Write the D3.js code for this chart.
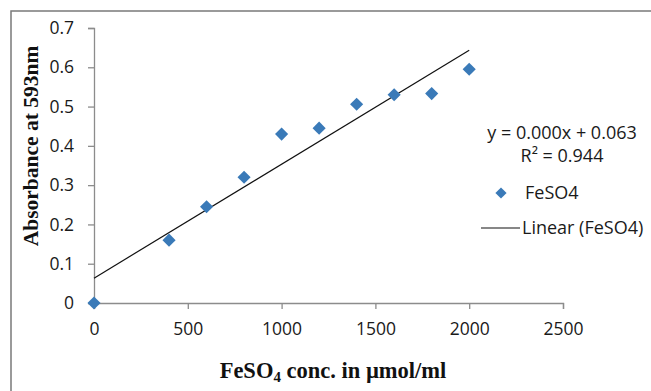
<!DOCTYPE html>
<html>
<head>
<meta charset="utf-8">
<script src="https://cdn.jsdelivr.net/npm/d3@7"></script>
<style>
  html, body { margin: 0; padding: 0; background: #fff; }
  svg { display: block; }
</style>
</head>
<body>
<div id="chart"></div>
<script>
// data
const concentrations = [0, 400, 600, 800, 1000, 1200, 1400, 1600, 1800, 2000];
const absorbance = [0, 0.16, 0.245, 0.32, 0.43, 0.445, 0.506, 0.53, 0.533, 0.595];
const xTicks = [0, 500, 1000, 1500, 2000, 2500];
const yTicks = [0, 0.1, 0.2, 0.3, 0.4, 0.5, 0.6, 0.7];
const seriesName = "FeSO4";
const trendLabel = "Linear (FeSO4)";
const equationText = "y = 0.000x + 0.063";
const r2Value = "0.944";

const width = 651, height = 391;
const tickFont = "'Open Sans', sans-serif";
const titleFont = "'Liberation Serif', 'Times New Roman', serif";
const markerColor = "#3a7ab8";
const axisColor = "#8c8c8c";
const textSize = "17.5px";

const svg = d3.select("#chart").append("svg")
  .attr("width", width)
  .attr("height", height);

// outer frame (runs past the right/bottom edge like the picture)
svg.append("rect")
  .attr("x", 11).attr("y", 11)
  .attr("width", 700).attr("height", 700)
  .attr("fill", "none")
  .attr("stroke", "#7a7a7a")
  .attr("stroke-width", 1.5);

const x = d3.scaleLinear().domain([0, 2500]).range([94, 563]);
const y = d3.scaleLinear().domain([0, 0.7]).range([303, 28]);

// y axis
const yAxis = svg.append("g")
  .attr("transform", `translate(${x(0)},0)`)
  .call(d3.axisLeft(y).tickValues(yTicks).tickSize(6).tickPadding(14)
    .tickFormat(d => d === 0 ? "0" : d3.format(".1f")(d)));

// x axis
const xAxis = svg.append("g")
  .attr("transform", `translate(0,${y(0)})`)
  .call(d3.axisBottom(x).tickValues(xTicks).tickSize(6).tickPadding(14)
    .tickFormat(d3.format("d")));

[yAxis, xAxis].forEach(g => {
  g.select(".domain").attr("stroke", axisColor).attr("stroke-width", 1.3);
  g.selectAll(".tick line").attr("stroke", axisColor).attr("stroke-width", 1.3);
  g.selectAll(".tick text")
    .attr("fill", "#1a1a1a")
    .style("font-family", tickFont)
    .style("font-size", textSize);
});

// trendline from least squares on the data
const n = concentrations.length;
const mx = d3.mean(concentrations), my = d3.mean(absorbance);
let sxy = 0, sxx = 0;
for (let i = 0; i < n; i++) {
  sxy += (concentrations[i] - mx) * (absorbance[i] - my);
  sxx += (concentrations[i] - mx) ** 2;
}
const slope = sxy / sxx;
const intercept = my - slope * mx;
const xMin = d3.min(concentrations), xMax = d3.max(concentrations);

svg.append("line")
  .attr("x1", x(xMin)).attr("y1", y(intercept + slope * xMin))
  .attr("x2", x(xMax)).attr("y2", y(intercept + slope * xMax))
  .attr("stroke", "#111")
  .attr("stroke-width", 1.2);

// markers
const diamond = d3.symbol().type(d3.symbolDiamond2).size(110);
svg.append("g")
  .selectAll("path")
  .data(concentrations.map((c, i) => ({ c, a: absorbance[i] })))
  .enter()
  .append("path")
  .attr("d", diamond)
  .attr("transform", d => `translate(${x(d.c)},${y(d.a)})`)
  .attr("fill", markerColor);

// equation + R²
const eq = svg.append("g")
  .style("font-family", tickFont)
  .style("font-size", "18px")
  .attr("fill", "#1a1a1a")
  .attr("text-anchor", "middle");
eq.append("text").attr("x", 562).attr("y", 139).text(equationText);
eq.append("text").attr("x", 562).attr("y", 162).text(`R² = ${r2Value}`);

// legend
const legend = svg.append("g")
  .style("font-family", tickFont)
  .style("font-size", "18px")
  .attr("fill", "#1a1a1a");
legend.append("path")
  .attr("d", d3.symbol().type(d3.symbolDiamond2).size(80))
  .attr("transform", "translate(501,193)")
  .attr("fill", markerColor);
legend.append("text").attr("x", 525).attr("y", 199).text(seriesName);
legend.append("line")
  .attr("x1", 481).attr("x2", 520).attr("y1", 228).attr("y2", 228)
  .attr("stroke", "#111").attr("stroke-width", 1.2);
legend.append("text").attr("x", 522).attr("y", 234).text(trendLabel);

// axis titles
const xTitle = svg.append("text")
  .attr("x", 333).attr("y", 378)
  .attr("text-anchor", "middle")
  .style("font-family", titleFont)
  .style("font-weight", "bold")
  .style("font-size", "22.5px")
  .attr("fill", "#111");
xTitle.append("tspan").text("FeSO");
xTitle.append("tspan").attr("dy", 4).style("font-size", "15px").text("4");
xTitle.append("tspan").attr("dy", -4).text(" conc. in µmol/ml");

svg.append("text")
  .attr("transform", "translate(38,146) rotate(-90)")
  .attr("text-anchor", "middle")
  .style("font-family", titleFont)
  .style("font-weight", "bold")
  .style("font-size", "21.5px")
  .attr("fill", "#111")
  .text("Absorbance at 593nm");
</script>
</body>
</html>
